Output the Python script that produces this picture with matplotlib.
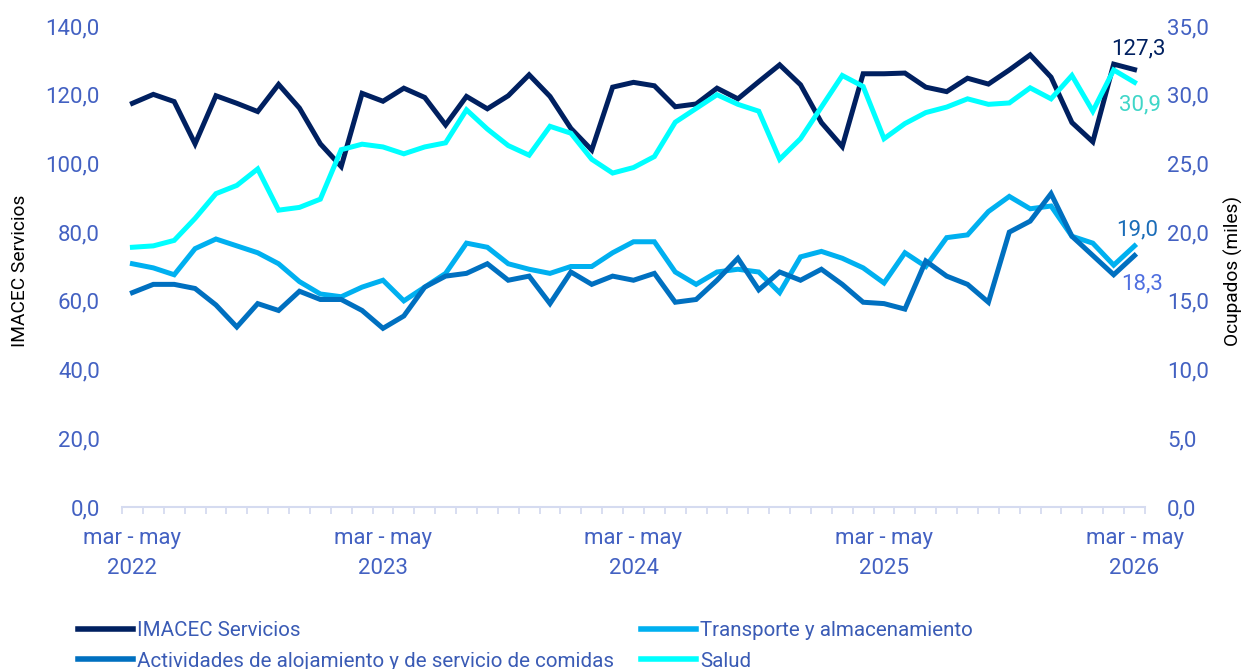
import matplotlib
matplotlib.use("Agg")
import matplotlib.pyplot as plt
from matplotlib.ticker import FixedLocator, FuncFormatter

plt.rcParams['font.family'] = ['Roboto', 'DejaVu Sans']

years = ["2022", "2023", "2024", "2025", "2026"]
period_label = "mar - may"

imacec = [117.5, 120.1, 118.0, 105.7, 119.7, 117.5, 115.1, 123.0, 116.1, 105.7, 99.1, 120.4, 118.1,
          121.9, 119.2, 111.2, 119.5, 115.9, 119.7, 125.8, 119.5, 110.2, 103.9, 122.2,
          123.6, 122.6, 116.5, 117.3, 121.9, 118.8, 123.8, 128.7, 122.9, 111.9,
          104.9, 126.1, 126.1, 126.3, 122.2, 120.9, 124.8, 123.1, 127.2, 131.6, 125.1, 111.9, 106.3, 128.9, 127.3]
transporte = [17.7, 17.4, 16.9, 18.8, 19.5, 19.0, 18.5, 17.7, 16.4, 15.5, 15.3, 16.0, 16.5,
              15.0, 16.0, 17.0, 19.2, 18.9, 17.7, 17.3, 17.0, 17.5, 17.5, 18.5,
              19.3, 19.3, 17.1, 16.2, 17.1, 17.3, 17.1, 15.6, 18.2, 18.6,
              18.1, 17.4, 16.3, 18.5, 17.5, 19.6, 19.8, 21.5, 22.6, 21.7, 21.9, 19.7, 19.2, 17.6, 19.0]
actividades = [15.6, 16.2, 16.2, 15.9, 14.7, 13.1, 14.8, 14.3, 15.7, 15.1, 15.1, 14.3, 13.0,
               13.9, 16.0, 16.8, 17.0, 17.7, 16.5, 16.8, 14.8, 17.1, 16.2, 16.8,
               16.5, 17.0, 14.9, 15.1, 16.5, 18.1, 15.8, 17.1, 16.5, 17.3,
               16.2, 14.9, 14.8, 14.4, 17.9, 16.8, 16.2, 14.9, 20.0, 20.8, 22.8, 19.7, 18.3, 16.9, 18.3]
salud = [18.9, 19.0, 19.4, 21.0, 22.8, 23.4, 24.6, 21.6, 21.8, 22.4, 26.0, 26.4, 26.2,
         25.7, 26.2, 26.5, 28.9, 27.5, 26.3, 25.6, 27.7, 27.2, 25.3, 24.3,
         24.7, 25.5, 28.0, 29.0, 30.0, 29.3, 28.8, 25.3, 26.8, 29.1,
         31.4, 30.6, 26.8, 27.9, 28.7, 29.1, 29.7, 29.3, 29.4, 30.5, 29.7, 31.4, 28.8, 31.8, 30.9]

names = ["IMACEC Servicios", "Transporte y almacenamiento",
         "Actividades de alojamiento y de servicio de comidas", "Salud"]
colors = ["#002060", "#00B0F0", "#0070C0", "#00FFFF"]
tick_color = "#4361C2"
fs = 16

n = len(imacec)
x = list(range(n))

fig = plt.figure(figsize=(12.42, 6.69), dpi=100)
ax = fig.add_axes([122/1242, 1 - 507/669, (1145-122)/1242, (507-26)/669])
ax2 = ax.twinx()

lw = 3.6
l1, = ax.plot(x, imacec, color=colors[0], lw=lw, solid_joinstyle='miter', label=names[0])
l2, = ax2.plot(x, transporte, color=colors[1], lw=lw, solid_joinstyle='miter', label=names[1])
l3, = ax2.plot(x, actividades, color=colors[2], lw=lw, solid_joinstyle='miter', label=names[2])
l4, = ax2.plot(x, salud, color=colors[3], lw=lw, solid_joinstyle='miter', label=names[3])

ax.set_xlim(-0.5, n - 0.5)
ax.set_ylim(0, 140)
ax2.set_ylim(0, 35)

fmt = FuncFormatter(lambda v, p: f"{v:.1f}".replace(".", ","))
ax.yaxis.set_major_locator(FixedLocator(range(0, 141, 20)))
ax2.yaxis.set_major_locator(FixedLocator(range(0, 36, 5)))
ax.yaxis.set_major_formatter(fmt)
ax2.yaxis.set_major_formatter(fmt)

for a in (ax, ax2):
    for s in a.spines.values():
        s.set_visible(False)
ax.spines['bottom'].set_visible(True)
ax.spines['bottom'].set_color("#D5DBF0")
ax.spines['bottom'].set_linewidth(1.5)

ax.tick_params(axis='y', length=0, pad=16, labelsize=fs, labelcolor=tick_color)
ax2.tick_params(axis='y', length=0, pad=16, labelsize=fs, labelcolor=tick_color)

major = [i * 12 for i in range(len(years))]
ax.set_xticks(major)
ax.set_xticklabels([f"{period_label}\n{y}" for y in years], linespacing=1.55)
ax.set_xticks([i - 0.5 for i in range(n + 1)], minor=True)
ax.tick_params(axis='x', which='major', length=0, pad=15, labelsize=fs, labelcolor=tick_color)
ax.tick_params(axis='x', which='minor', length=5, width=1.3, color="#D5DBF0", direction='out')

# end labels
last = n - 1
ax.annotate(f"{imacec[-1]:.1f}".replace(".", ","), (last, imacec[-1]), xytext=(4, 21),
            textcoords='offset pixels', ha='center', va='center', fontsize=fs, color="#002060")
ax2.annotate(f"{salud[-1]:.1f}".replace(".", ","), (last, salud[-1]), xytext=(5, -23),
             textcoords='offset pixels', ha='center', va='center', fontsize=fs, color="#3FD6C8")
ax2.annotate(f"{transporte[-1]:.1f}".replace(".", ","), (last, transporte[-1]), xytext=(3, 16),
             textcoords='offset pixels', ha='center', va='center', fontsize=fs, color="#1A6DB8")
ax2.annotate(f"{actividades[-1]:.1f}".replace(".", ","), (last, actividades[-1]), xytext=(8, -28),
             textcoords='offset pixels', ha='center', va='center', fontsize=fs, color="#4F6FE0")

fig.text(20/1242, 1 - 271/669, "IMACEC Servicios", rotation=90, ha='center', va='center',
         fontsize=13.8, color="#000000")
fig.text(1233/1242, 1 - 271/669, "Ocupados (miles)", rotation=90, ha='center', va='center',
         fontsize=13.8, color="#000000")

leg = fig.legend([l1, l3, l2, l4], [names[0], names[2], names[1], names[3]], ncol=2,
                 loc='upper left', bbox_to_anchor=(78/1242, 1 - 621/669), frameon=False,
                 fontsize=14.8, handlelength=2.68, handletextpad=0.2, columnspacing=1.3,
                 labelspacing=0.56, borderpad=0, borderaxespad=0)
for t in leg.get_texts():
    t.set_color("#3A5BB5")
for h in leg.get_lines():
    h.set_linewidth(4)

fig.savefig("out.png", dpi=100)
